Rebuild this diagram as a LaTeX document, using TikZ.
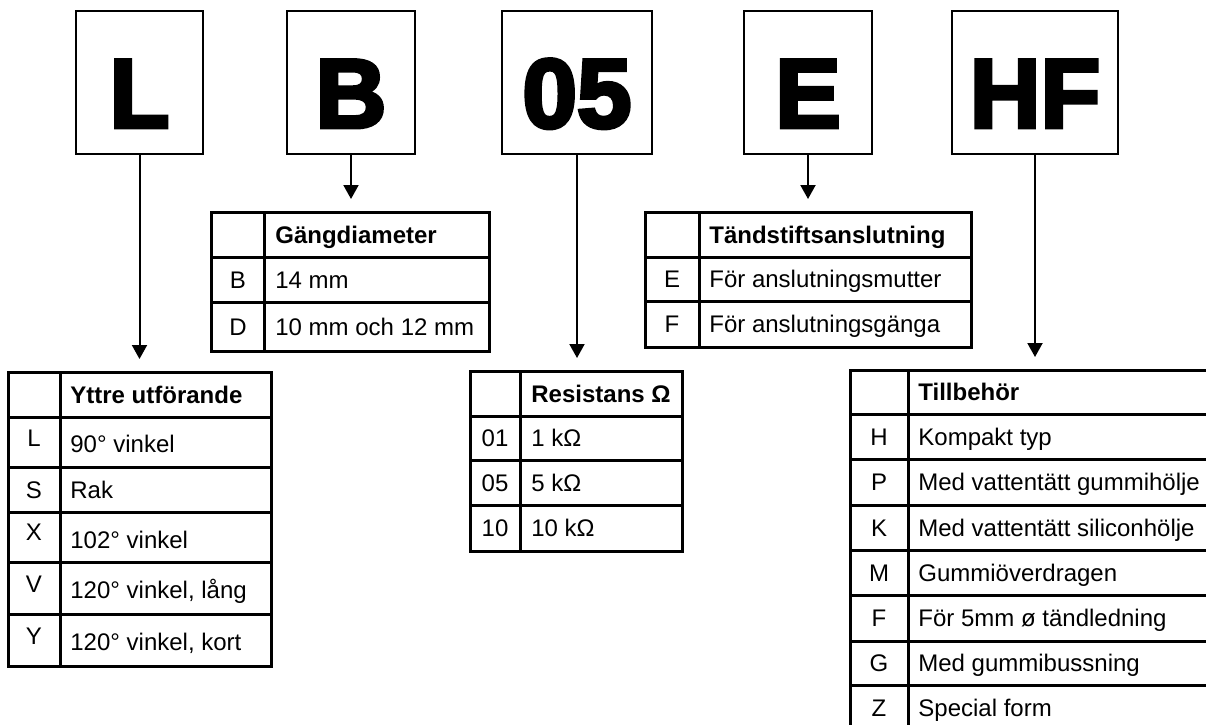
\documentclass[tikz,border=0pt]{standalone}
\usepackage{fontspec}
\setmainfont{Liberation Sans}
\newfontfamily\codefont[FakeBold=4]{Liberation Sans Bold}
\usetikzlibrary{arrows.meta}

\tikzset{
	codebox/.style={draw,line width=1pt,minimum height=71.5pt,inner sep=0pt},
	codeletter/.style={anchor=base,inner sep=0pt,font=\codefont\fontsize{49}{49}\selectfont},
	pointer/.style={line width=1pt,-{Triangle[length=7pt,width=7.5pt]},shorten >=6.5pt},
	tabline/.style={line width=1.5pt},
	keycell/.style={anchor=base,inner sep=0pt,font=\fontsize{12}{14}\selectfont},
	desccell/.style={anchor=base west,inner sep=0pt,font=\fontsize{12}{14}\selectfont},
	headcell/.style={desccell,font=\fontsize{12}{14}\selectfont\bfseries}
}

\begin{document}
\begin{tikzpicture}[x=0.5pt,y=-0.5pt]
	\useasboundingbox (0,0) rectangle (1206,724);
	\clip (0,0) rectangle (1206,724);

	% code boxes
	\node[codebox,minimum width=63.5pt] (boxL) at (139.5,82.5) {};
	\node[codeletter] (codeL) at (139.5,127.5) {L};
	\node[codebox,minimum width=63.75pt] (boxB) at (351,82.5) {};
	\node[codeletter] (codeB) at (351,127.5) {B};
	\node[codebox,minimum width=75pt] (boxR) at (577,82.5) {};
	\node[codeletter] (codeR) at (577,127.5) {05};
	\node[codebox,minimum width=64pt] (boxE) at (808,82.5) {};
	\node[codeletter] (codeE) at (808,127.5) {E};
	\node[codebox,minimum width=83pt] (boxHF) at (1035,82.5) {};
	\node[codeletter] (codeHF) at (1035,127.5) {HF};

	% table tops
	\coordinate (tabL) at (139.5,372);
	\coordinate (tabB) at (351,212);
	\coordinate (tabR) at (577,371);
	\coordinate (tabE) at (808,212);
	\coordinate (tabHF) at (1035,370);

	\draw[pointer] (boxL.south) -- (tabL);
	\draw[pointer] (boxB.south) -- (tabB);
	\draw[pointer] (boxR.south) -- (tabR);
	\draw[pointer] (boxE.south) -- (tabE);
	\draw[pointer] (boxHF.south) -- (tabHF);

	% Yttre utforande
	\draw[tabline] (8,372) rectangle (271,666) (60,372) -- (60,666);
	\foreach \y in {417,467,512,562,614} \draw[tabline] (8,\y) -- (271,\y);
	\node[headcell] (yttre-h) at (70,403) {Yttre utförande};
	\foreach \k/\t/\y/\d [count=\i] in {L/90° vinkel/442/4, S/Rak/489.5/0, X/102° vinkel/537/5, V/{120° vinkel, lång}/588/4, Y/{120° vinkel, kort}/640/4} {
		\node[keycell] (yttre-k\i) at ({34},{\y+8.5-\d}) {\k};
		\node[desccell] (yttre-t\i) at ({70},{\y+8.5+\d/2}) {\t};
	}

	% Gangdiameter
	\draw[tabline] (211.6,212) rectangle (489.5,351) (264,212) -- (264,351);
	\foreach \y in {257,302} \draw[tabline] (211.6,\y) -- (489.5,\y);
	\node[headcell] (gang-h) at (275,243) {Gängdiameter};
	\foreach \k/\t/\y [count=\i] in {B/14 mm/279.5, D/10 mm och 12 mm/326.5} {
		\node[keycell] (gang-k\i) at ({238},{\y+8.5}) {\k};
		\node[desccell] (gang-t\i) at ({275},{\y+8.5}) {\t};
	}

	% Resistans
	\draw[tabline] (470,371) rectangle (682,551) (520,371) -- (520,551);
	\foreach \y in {416,460,505} \draw[tabline] (470,\y) -- (682,\y);
	\node[headcell] (res-h) at (531,402) {Resistans Ω};
	\foreach \k/\t/\y [count=\i] in {01/1 kΩ/438, 05/5 kΩ/482.5, 10/10 kΩ/528} {
		\node[keycell] (res-k\i) at ({495},{\y+8.5}) {\k};
		\node[desccell] (res-t\i) at ({531},{\y+8.5}) {\t};
	}

	% Tandstiftsanslutning
	\draw[tabline] (645,212) rectangle (971,347) (699,212) -- (699,347);
	\foreach \y in {257,301} \draw[tabline] (645,\y) -- (971,\y);
	\node[headcell] (tand-h) at (709,243) {Tändstiftsanslutning};
	\foreach \k/\t/\y [count=\i] in {E/För anslutningsmutter/279, F/För anslutningsgänga/324} {
		\node[keycell] (tand-k\i) at ({672},{\y+8.5}) {\k};
		\node[desccell] (tand-t\i) at ({709},{\y+8.5}) {\t};
	}

	% Tillbehor
	\draw[tabline] (850,370) rectangle (1220,730) (908,370) -- (908,730);
	\foreach \y in {414,459,505,550,595,641,685} \draw[tabline] (850,\y) -- (1220,\y);
	\node[headcell] (till-h) at (918,400.5) {Tillbehör};
	\foreach \k/\t/\y [count=\i] in {H/Kompakt typ/436.5, P/Med vattentätt gummihölje/482, K/Med vattentätt siliconhölje/527.5, M/Gummiöverdragen/572.5, F/För 5mm ø tändledning/618, G/Med gummibussning/663, Z/Special form/707.5} {
		\node[keycell] (till-k\i) at ({879},{\y+8.5}) {\k};
		\node[desccell] (till-t\i) at ({918},{\y+8.5}) {\t};
	}
\end{tikzpicture}
\end{document}
